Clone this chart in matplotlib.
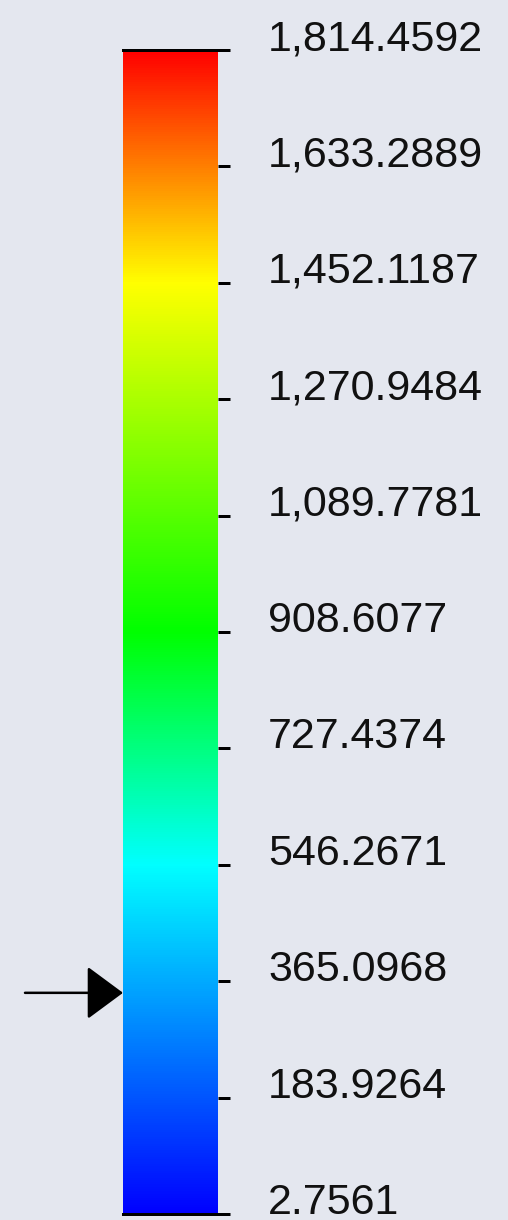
import matplotlib

matplotlib.use("Agg")
import matplotlib.pyplot as plt
from matplotlib.colors import LinearSegmentedColormap, Normalize
from matplotlib.cm import ScalarMappable

# legend range and labelled ticks
vmin = 2.7561
vmax = 1814.4592
tick_values = [2.7561, 183.9264, 365.0968, 546.2671, 727.4374, 908.6077,
               1089.7781, 1270.9484, 1452.1187, 1633.2889, 1814.4592]
tick_labels = ["2.7561", "183.9264", "365.0968", "546.2671", "727.4374", "908.6077",
               "1,089.7781", "1,270.9484", "1,452.1187", "1,633.2889", "1,814.4592"]
arrow_value = 347.0

# colour stops (fraction, colour)
stop_pos = [0.0, 0.30, 0.50, 0.80, 1.0]
stop_colors = ["#0000ff", "#00ffff", "#00ff00", "#ffff00", "#ff0000"]

bg = "#e4e7ef"
W, H, dpi = 508, 1220, 100
fig = plt.figure(figsize=(W / dpi, H / dpi), dpi=dpi, facecolor=bg)

# bar in pixel terms: x 123..218, y 50..1214 from top
cax = fig.add_axes([123 / W, (H - 1214) / H, 95 / W, 1164 / H])
cmap = LinearSegmentedColormap.from_list("sw", list(zip(stop_pos, stop_colors)), N=512)
sm = ScalarMappable(norm=Normalize(vmin, vmax), cmap=cmap)
cb = fig.colorbar(sm, cax=cax, ticks=tick_values)
cb.outline.set_visible(False)
cb.set_ticklabels(tick_labels)
cax.set_ylim(vmin, vmax)

px = 72 / dpi
cax.tick_params(axis="y", which="both", right=True, left=False, direction="out",
                length=12 * px, width=3 * px, color="black", pad=38 * px,
                labelsize=31, labelcolor="#111111")
for lab in cax.get_yticklabels():
    lab.set_family(["Liberation Sans", "DejaVu Sans"])
    lab.set_verticalalignment("baseline")
cax.minorticks_off()

# black rules at the ends of the bar
for v in (vmin, vmax):
    cax.axhline(v, 0, 1, color="black", lw=3 * px, clip_on=False)

# probe arrow pointing at the bar
cax.annotate("", xy=(0, arrow_value), xycoords=("axes fraction", "data"),
             xytext=(-98 * px, 0), textcoords="offset points",
             arrowprops=dict(arrowstyle="-|>,head_length=23,head_width=17",
                             mutation_scale=1, color="black", lw=2.5 * px,
                             shrinkA=0, shrinkB=0))

fig.savefig("out.png", dpi=dpi, facecolor=bg)
